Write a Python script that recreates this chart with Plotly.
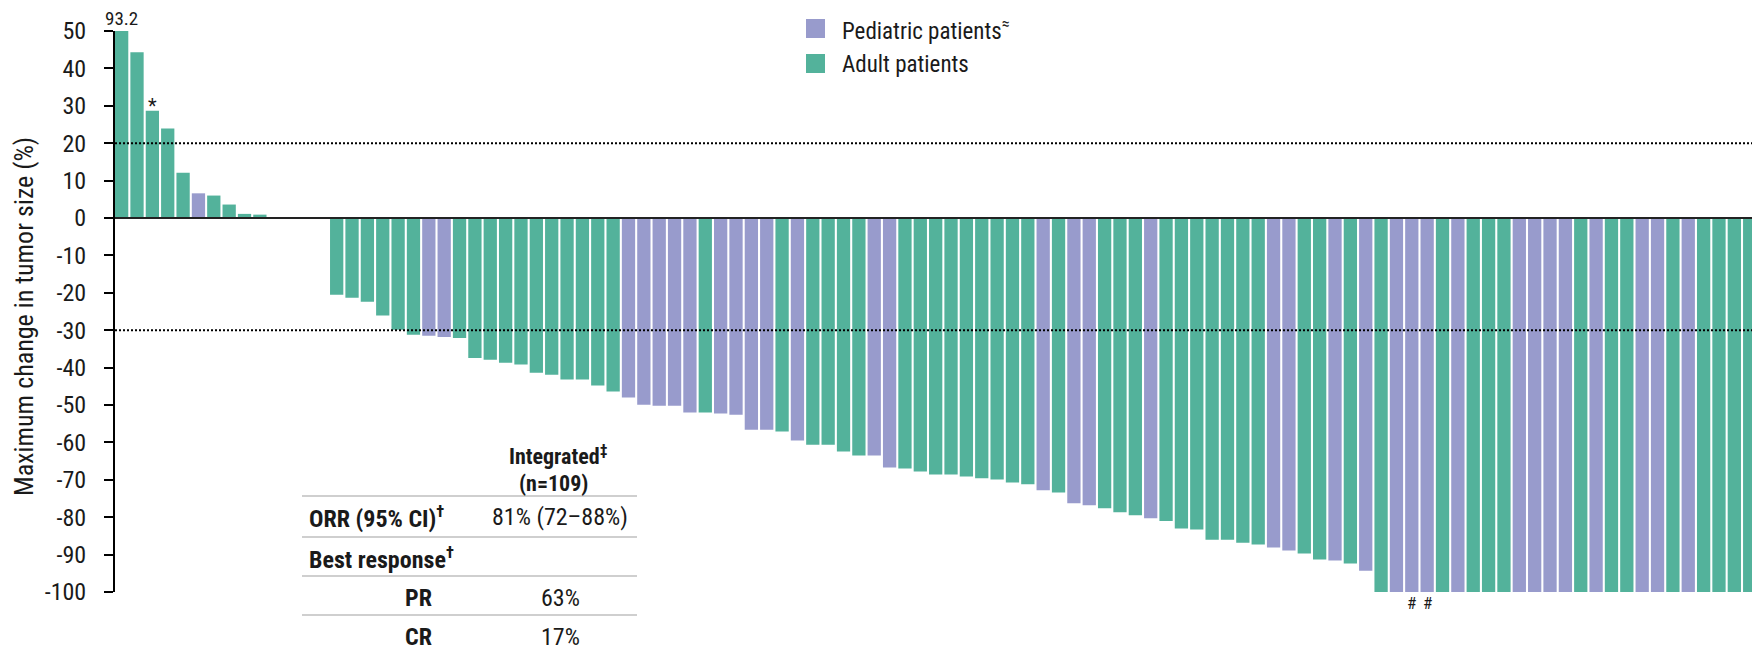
import plotly.graph_objects as go

# Best percentage change in tumor size per patient, ordered as a waterfall
change = [
    93.2, 44.3, 28.7, 23.9, 12.1, 6.6, 6.0, 3.6, 1.1, 0.9,
    0.0, 0.0, 0.0, 0.0,
    -20.5, -21.3, -22.4, -26.1, -29.9, -31.2, -31.5, -31.8, -32.1, -37.4,
    -37.9, -38.7, -39.2, -41.4, -41.9, -43.2, -43.2, -44.8, -46.4, -48.0,
    -49.9, -50.2, -50.2, -52.0, -52.0, -52.3, -52.6, -56.6, -56.6, -57.1,
    -59.5, -60.6, -60.6, -62.4, -63.5, -63.5, -66.7, -67.0, -67.8, -68.6,
    -68.6, -69.1, -69.6, -69.9, -70.7, -71.2, -72.8, -73.4, -76.3, -76.8,
    -77.6, -78.7, -79.5, -80.3, -81.0, -83.0, -83.3, -86.0, -86.0, -86.8,
    -87.3, -88.1, -88.9, -89.7, -91.3, -91.6, -92.4, -94.3,
    -100, -100, -100, -100, -100, -100, -100, -100, -100, -100,
    -100, -100, -100, -100, -100, -100, -100, -100, -100, -100,
    -100, -100, -100, -100, -100,
]

# Population of each patient: P = pediatric, A = adult
group = [
    "A", "A", "A", "A", "A", "P", "A", "A", "A", "A",
    "A", "A", "A", "A",
    "A", "A", "A", "A", "A", "A", "P", "P", "A", "A",
    "A", "A", "A", "A", "A", "A", "A", "A", "A", "P",
    "P", "P", "P", "P", "A", "P", "P", "P", "P", "A",
    "P", "A", "A", "A", "A", "P", "P", "A", "A", "A",
    "A", "A", "A", "A", "A", "A", "P", "A", "P", "P",
    "A", "A", "A", "P", "A", "A", "A", "A", "A", "A",
    "A", "P", "P", "A", "A", "P", "A", "P",
    "A", "P", "P", "P", "A", "P", "A", "A", "A", "P",
    "P", "P", "P", "A", "P", "A", "A", "P", "P", "A",
    "P", "A", "A", "A", "A",
]

series = [("P", "Pediatric patients", "#989BCC"), ("A", "Adult patients", "#53B29B")]
y_ticks = list(range(-100, 51, 10))
thresholds = [20, -30]

# Marker notes: (patient index, symbol)
star_notes = [(2, "*")]
hash_notes = [(84, "#"), (85, "#")]

# Response summary table rows: (label, value)
table_rows = [
    ("ORR (95% CI)<sup>†</sup>", "81% (72–88%)"),
    ("Best response<sup>†</sup>", ""),
    ("PR", "63%"),
    ("CR", "17%"),
]

W, H = 1752, 653
L, R, T, B = 115, 0, 31, 61
PW, PH = W - L - R, H - T - B


def px(x):
    return (x - L) / PW


def py(y):
    return (H - B - y) / PH


FONT = "Liberation Sans Narrow, Roboto Condensed, DejaVu Sans Condensed, Liberation Sans, sans-serif"
INK = "#1a1a1a"

fig = go.Figure()
for key, name, color in series:
    xs = [i for i, g in enumerate(group) if g == key]
    ys = [change[i] for i in xs]
    fig.add_bar(x=xs, y=ys, name=name, marker_color=color,
                marker_line_width=0, width=0.865, showlegend=False)

fig.update_layout(
    barmode="overlay", width=W, height=H,
    margin=dict(l=L, r=R, t=T, b=B, pad=0),
    plot_bgcolor="white", paper_bgcolor="white",
    font=dict(family=FONT, color=INK),
)
fig.update_xaxes(range=[-0.433, 106.15], visible=False)
fig.update_yaxes(
    range=[-100, 50], tickvals=y_ticks, ticktext=[str(v) for v in y_ticks],
    showgrid=False, zeroline=False, showline=True, linecolor="black", linewidth=2,
    ticks="outside", ticklen=9, tickwidth=2, tickcolor="black",
    tickfont=dict(size=24, color=INK), ticklabelstandoff=13,
)

shapes = []
# baseline at zero
shapes.append(dict(type="line", xref="paper", yref="y", x0=0, x1=1, y0=0, y1=0,
                   line=dict(color="#222222", width=2), layer="above"))
# response thresholds
for t in thresholds:
    shapes.append(dict(type="line", xref="paper", yref="y", x0=0, x1=1, y0=t, y1=t,
                       line=dict(color="black", width=2, dash="2px,2px"), layer="above"))

annotations = []
# y-axis title
annotations.append(dict(text="Maximum change in tumor size (%)", xref="paper", yref="paper",
                        x=px(24), y=py(317), textangle=-90, showarrow=False,
                        xanchor="center", yanchor="middle", font=dict(size=26)))
# clipped bar value
annotations.append(dict(text=f"{change[0]:.1f}", xref="x", yref="paper", x=0, y=py(19),
                        showarrow=False, xanchor="center", yanchor="middle", font=dict(size=19)))
for i, s in star_notes:
    annotations.append(dict(text=s, xref="x", yref="y", x=i, y=change[i], yshift=-9,
                            showarrow=False, xanchor="center", yanchor="bottom", font=dict(size=20)))
for i, s in hash_notes:
    annotations.append(dict(text=s, xref="x", yref="paper", x=i, y=py(603),
                            showarrow=False, xanchor="center", yanchor="middle", font=dict(size=17)))

# legend
leg_y = [28.5, 63.5]
for (key, name, color), cy in zip(series, leg_y):
    shapes.append(dict(type="rect", xref="paper", yref="paper", x0=px(806), x1=px(825),
                       y0=py(cy + 9.5), y1=py(cy - 9.5), fillcolor=color, line=dict(width=0)))
    label = name + ("<sup>≈</sup>" if key == "P" else "")
    annotations.append(dict(text=label, xref="paper", yref="paper", x=px(840), y=py(cy + 1),
                            showarrow=False, xanchor="left", yanchor="middle", font=dict(size=23)))

# summary table
tx0, tx1 = 302, 637
for ly in [496, 537, 576, 615]:
    shapes.append(dict(type="line", xref="paper", yref="paper", x0=px(tx0), x1=px(tx1),
                       y0=py(ly), y1=py(ly), line=dict(color="#cfcfcf", width=2)))
annotations.append(dict(text="<b>Integrated<sup>‡</sup></b>", xref="paper", yref="paper",
                        x=px(558), y=py(455), showarrow=False, xanchor="center",
                        yanchor="middle", font=dict(size=22), borderpad=0))
annotations.append(dict(text="<b>(n=109)</b>", xref="paper", yref="paper",
                        x=px(553), y=py(483), showarrow=False, xanchor="center",
                        yanchor="middle", font=dict(size=22), borderpad=0))
row_y = [517, 558, 598, 637]
for (lab, val), ry in zip(table_rows, row_y):
    if lab in ("PR", "CR"):
        annotations.append(dict(text=f"<b>{lab}</b>", xref="paper", yref="paper", x=px(418),
                                y=py(ry), showarrow=False, xanchor="center", yanchor="middle",
                                font=dict(size=24)))
    else:
        annotations.append(dict(text=f"<b>{lab}</b>", xref="paper", yref="paper", x=px(307),
                                y=py(ry), showarrow=False, xanchor="left", yanchor="middle",
                                font=dict(size=24)))
    if val:
        annotations.append(dict(text=val, xref="paper", yref="paper", x=px(560), y=py(ry),
                                showarrow=False, xanchor="center", yanchor="middle",
                                font=dict(size=24)))

fig.update_layout(shapes=shapes, annotations=annotations)
fig.write_html("out.html")
